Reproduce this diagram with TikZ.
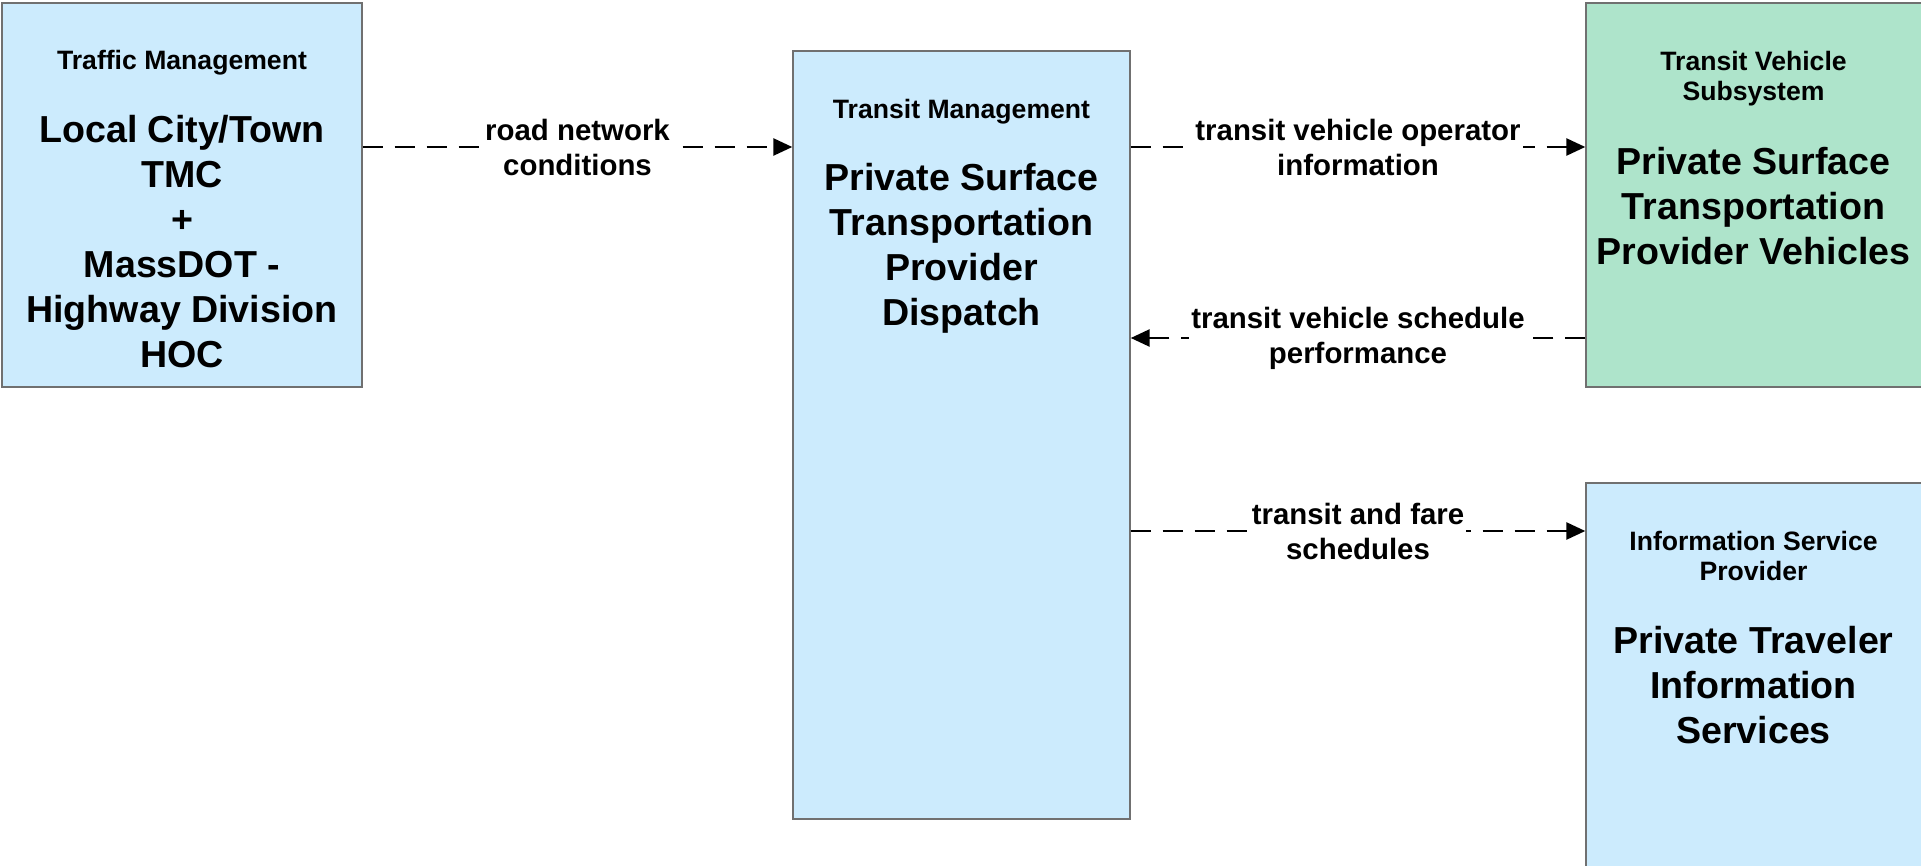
\documentclass[tikz,border=0pt]{standalone}
\usepackage{fontspec}
\setmainfont{Liberation Sans}
\usetikzlibrary{arrows.meta,positioning}
\definecolor{sysblue}{RGB}{204,235,253}
\definecolor{vehgreen}{RGB}{174,228,203}
\definecolor{boxgray}{RGB}{112,112,112}

\begin{document}
\begin{tikzpicture}[x=0.5pt,y=-0.5pt,
				sys/.style={draw=boxgray,line width=0.7pt,fill=sysblue,inner sep=0pt},
				ttl/.style={anchor=north,align=center,inner sep=0pt,font=\bfseries\fontsize{13.3}{15}\selectfont},
				big/.style={anchor=north,align=center,inner sep=0pt,font=\bfseries\fontsize{18.8}{22.5}\selectfont},
				lbl/.style={fill=white,inner sep=1pt,align=center,font=\bfseries\fontsize{14.7}{17.5}\selectfont},
				flow/.style={line width=1.3pt,dash pattern=on 10pt off 6pt,-{Triangle[length=9.5pt,width=8.5pt]}}]
			\useasboundingbox (0,0) rectangle (1921,866);
			% boxes
			\node [sys,minimum width=180pt,minimum height=192pt] (traffic) at (182,195) {};
			\node [sys,minimum width=168.5pt,minimum height=384pt] (transit) at (961.5,435) {};
			\node [sys,fill=vehgreen,minimum width=168pt,minimum height=192pt] (vehicle) at (1754,195) {};
			\node [sys,minimum width=168pt,minimum height=200pt] (isp) at (1754,683) {};
			% box texts
			\node [ttl] (traffic-t) at (182,50) {Traffic Management};
			\node [big] (traffic-b) at (182,115) {Local City/Town\\TMC\\+\\MassDOT -\\Highway Division\\HOC};
			\node [ttl] (transit-t) at (961.5,99) {Transit Management};
			\node [big] (transit-b) at (961.5,163) {Private Surface\\Transportation\\Provider\\Dispatch};
			\node [ttl] (vehicle-t) at (1753.5,51) {Transit Vehicle\\Subsystem};
			\node [big] (vehicle-b) at (1753.5,147) {Private Surface\\Transportation\\Provider Vehicles};
			\node [ttl] (isp-t) at (1753.5,531) {Information Service\\Provider};
			\node [big] (isp-b) at (1753.5,626) {Private Traveler\\Information\\Services};
			% flows
			\coordinate (row1) at (0,147);
			\coordinate (row2) at (0,338);
			\coordinate (row3) at (0,531);
			\draw [flow] (traffic.east |- row1) -- (transit.west |- row1)
				node [lbl,midway] (road) {road network\\conditions};
			\draw [flow] (transit.east |- row1) -- (vehicle.west |- row1)
				node [lbl,midway] (oper) {transit vehicle operator\\information};
			\draw [flow] (vehicle.west |- row2) -- (transit.east |- row2)
				node [lbl,midway] (perf) {transit vehicle schedule\\performance};
			\draw [flow] (transit.east |- row3) -- (isp.west |- row3)
				node [lbl,midway] (fare) {transit and fare\\schedules};
		\end{tikzpicture}
\end{document}
